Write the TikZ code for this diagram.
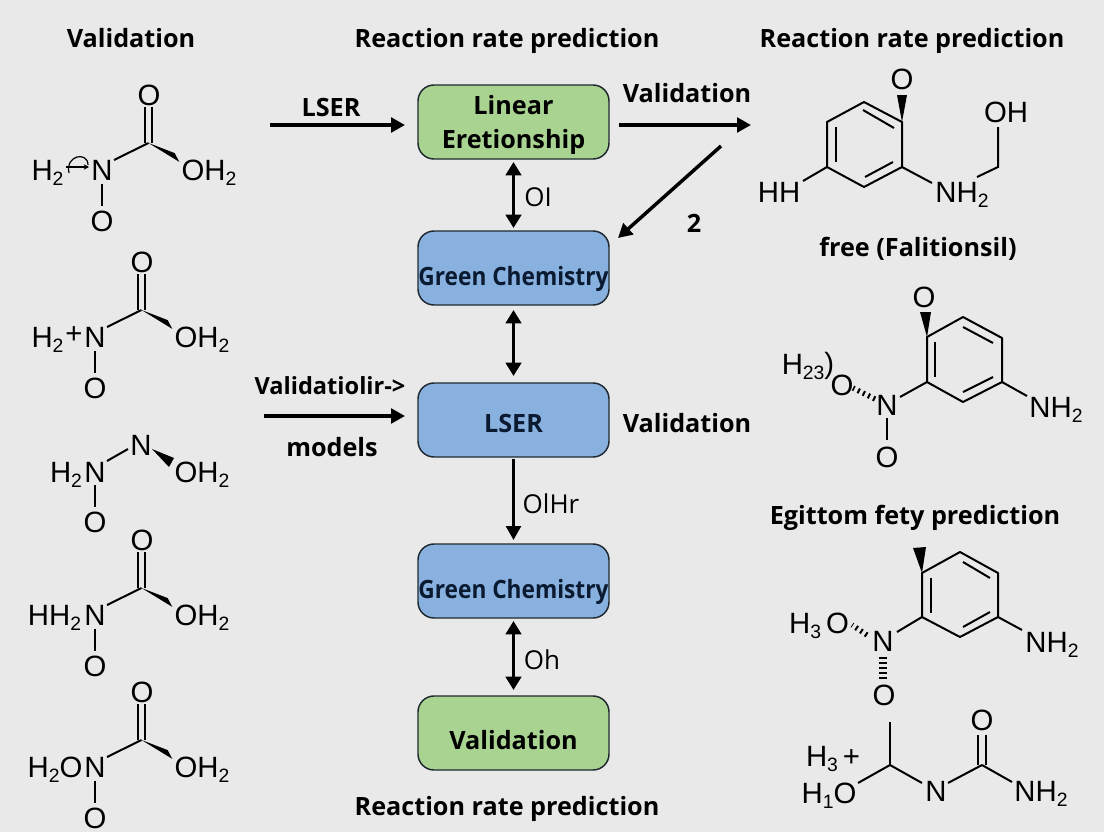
\documentclass[tikz,border=0pt]{standalone}
\usepackage{fontspec}
\usetikzlibrary{arrows.meta}
\setmainfont{Liberation Sans}
\newfontfamily\labfont{Open Sans}
\newfontfamily\narrowfont[FakeStretch=0.9]{Open Sans}
\definecolor{pagebg}{HTML}{E9E9E9}
\definecolor{boxgreen}{HTML}{A8D391}
\definecolor{boxblue}{HTML}{88B1E0}
\definecolor{boxline}{HTML}{1F2A30}
\definecolor{navy}{HTML}{0A1A30}
\newcommand{\chs}[1]{\raisebox{-.2em}{\fontsize{14.5}{14.5}\selectfont #1}}
\tikzset{
  procbox/.style={draw=boxline,line width=1.1pt,rounded corners=12pt,minimum width=143.25pt,minimum height=55.5pt,inner sep=0pt,outer sep=0pt},
  greenbox/.style={procbox,fill=boxgreen},
  bluebox/.style={procbox,fill=boxblue},
  blab/.style={inner sep=0pt,align=center,font=\labfont\fontsize{18.9}{25.5}\selectfont\bfseries},
  narrowlab/.style={blab,font=\narrowfont\fontsize{18.9}{22}\selectfont\bfseries},
  thinlab/.style={inner sep=0pt,font=\labfont\fontsize{19.5}{22}\selectfont},
  arr/.style={line width=2.6pt,-{Triangle[length=10.5pt,width=11pt]}},
  dbl/.style={line width=2.6pt,{Triangle[length=10pt,width=11.5pt]}-{Triangle[length=10pt,width=11.5pt]}},
  atom/.style={inner sep=0pt,font=\fontsize{22}{24}\selectfont},
  chem/.style={inner sep=0pt,anchor=base,font=\fontsize{22}{24}\selectfont},
  bond/.style={line width=1.5pt},
  wedge/.style={fill=black},
  hash/.style={line width=4pt,dash pattern=on 1.5pt off 2.8pt},
  vhash/.style={line width=6.5pt,dash pattern=on 1.5pt off 2.3pt}
}
% carbonyl molecule, origin at its N atom: #1 name prefix, #2 position
\newcommand{\acid}[2]{%
  \begin{scope}[shift={#2}]
    \node[atom] (#1n) at (0,0) {N};
    \node[atom] (#1o) at (47,-75) {O};
    \node[atom] (#1p) at (0,51) {O};
    \node[chem] (#1h) at (107,10) {OH\chs{2}};
    \coordinate (#1c) at (46.5,-27);
    \coordinate (#1a) at (12,-10);
    \coordinate (#1b) at (0,14);
    \coordinate (#1d) at (0,36);
    \coordinate (#1e) at (42.7,-27);
    \coordinate (#1f) at (42.7,-63);
    \coordinate (#1g) at (50.3,-27);
    \coordinate (#1i) at (50.3,-63);
    \coordinate (#1j) at (72.7,-16.9);
    \coordinate (#1k) at (77.3,-8.1);
    \draw[bond] (#1a) -- (#1c);
    \draw[bond] (#1b) -- (#1d);
    \draw[bond] (#1e) -- (#1f);
    \draw[bond] (#1g) -- (#1i);
    \fill[wedge] (#1c) -- (#1j) -- (#1k) -- cycle;
  \end{scope}}
% six ring: #1 prefix, then vertices
\newcommand{\ringbonds}[1]{%
  \draw[bond,line join=round] (#11) -- (#12) -- (#13) -- (#14) -- (#15) -- (#16) -- cycle;}
\begin{document}
\begin{tikzpicture}[x=0.75pt,y=-0.75pt]
\fill[pagebg] (0,0) rectangle (1104,832);
\useasboundingbox (0,0) rectangle (1104,832);

% titles
\node[blab] (t1) at (131,38) {Validation};
\node[blab] (t2) at (507,41) {Reaction rate prediction};
\node[blab] (t3) at (912,41) {Reaction rate prediction};
\node[blab] (t4) at (507,809) {Reaction rate prediction};

% process boxes
\node[greenbox] (b1) at (513.5,122) {};
\node[blab] (b1t) at (513.5,125) {Linear\\Eretionship};
\node[bluebox]  (b2) at (513.5,268) {};
\node[narrowlab,text=navy] (b2t) at (513.5,279) {Green Chemistry};
\node[bluebox]  (b3) at (513.5,420) {};
\node[blab,text=navy] (b3t) at (513.5,423) {LSER};
\node[bluebox]  (b4) at (513.5,581) {};
\node[narrowlab,text=navy] (b4t) at (513.5,592) {Green Chemistry};
\node[greenbox] (b5) at (513.5,733) {};
\node[blab] (b5t) at (513.5,740) {Validation};

% free arrow ends
\coordinate (in1) at (270,125);
\coordinate (out1) at (751,125);
\coordinate (in2) at (264,416);
\coordinate (dg1) at (721,146);
\coordinate (dg2) at (618,238);

% connectors
\draw[arr,shorten >=9.75pt] (in1) -- (b1.west |- in1);
\draw[arr,shorten <=7.5pt] (b1.east |- out1) -- (out1);
\draw[arr] (dg1) -- (dg2);
\draw[dbl,shorten <=2.25pt,shorten >=2.25pt] (b1.south) -- (b2.north);
\draw[dbl,shorten <=3.75pt,shorten >=5.25pt] (b2.south) -- (b3.north);
\draw[arr,shorten >=9.75pt] (in2) -- (b3.west |- in2);
\draw[arr,shorten <=1.5pt,shorten >=3pt] (b3.south) -- (b4.north);
\draw[dbl,shorten <=2.25pt,shorten >=4.5pt] (b4.south) -- (b5.north);

% connector labels
\node[blab] (l1) at (331,107) {LSER};
\node[blab] (l2) at (687,93) {Validation};
\node[thinlab] (l3) at (538,197) {OI};
\node[blab] (l4) at (694,223) {2};
\node[blab,font=\labfont\fontsize{17.7}{22}\selectfont\bfseries] (l5) at (330,386) {Validatiolir->};
\node[blab] (l6) at (332,447) {models};
\node[blab] (l7) at (687,423) {Validation};
\node[thinlab] (l8) at (551,504) {OlHr};
\node[thinlab] (l9) at (542,660) {Oh};

% ---- left molecules
\acid{ma}{(102,170)}
\node[chem] (mal) at (47.5,180) {H\chs{2}};
\coordinate (maq1) at (66,167);
\coordinate (maq2) at (89,167);
\draw[line width=0.9pt,-{Stealth[length=4pt,width=4pt]}] (maq1) -- (maq2);
\draw[line width=0.9pt] (69,173) .. controls (65,155) and (88,151) .. (88,165);

\acid{mb}{(95,337)}
\node[chem] (mbl) at (47.5,347) {H\chs{2}};
\node[atom] (mbp) at (74,335) {+};

% molecule three
\node[atom] (mcn) at (95,472) {N};
\node[atom] (mcm) at (141,445) {N};
\node[atom] (mco) at (95,522) {O};
\node[chem] (mch) at (202,482) {OH\chs{2}};
\node[chem] (mcl) at (66,482) {H\chs{2}};
\coordinate (mc1) at (107,461);
\coordinate (mc2) at (128,449);
\coordinate (mc3) at (95,485);
\coordinate (mc4) at (95,507);
\coordinate (mc5) at (152,449);
\coordinate (mc6) at (169,467);
\coordinate (mc7) at (174,458);
\draw[bond] (mc1) -- (mc2);
\draw[bond] (mc3) -- (mc4);
\fill[wedge] (mc5) -- (mc6) -- (mc7) -- cycle;

\acid{md}{(95,615)}
\node[chem] (mdl) at (54.5,625) {HH\chs{2}};
\acid{me}{(95,767)}
\node[chem] (mel) at (55,777) {H\chs{2}O};

% ---- right molecule one
\coordinate (ra1) at (902,122);
\coordinate (ra2) at (864,102);
\coordinate (ra3) at (827,122);
\coordinate (ra4) at (827,167);
\coordinate (ra5) at (864,187);
\coordinate (ra6) at (902,167);
\ringbonds{ra}
\coordinate (rai1) at (863,110);
\coordinate (rai2) at (894,128);
\coordinate (rai3) at (836,127);
\coordinate (rai4) at (836,162);
\coordinate (rai5) at (865,177);
\coordinate (rai6) at (893,162);
\draw[bond] (rai1) -- (rai2);
\draw[bond] (rai3) -- (rai4);
\draw[bond] (rai5) -- (rai6);
\node[atom] (rao) at (902,79) {O};
\coordinate (raw1) at (897,95);
\coordinate (raw2) at (907,95);
\fill[wedge] (ra1) -- (raw1) -- (raw2) -- cycle;
\node[chem] (rahh) at (779,202) {HH};
\node[chem] (ranh) at (962,202) {NH\chs{2}};
\node[chem] (raoh) at (1006,122) {OH};
\coordinate (rab1) at (803,181);
\coordinate (rab2) at (932,183);
\coordinate (rab3) at (977,177);
\coordinate (rab4) at (998,167);
\coordinate (rab5) at (998,127);
\draw[bond] (ra4) -- (rab1);
\draw[bond] (ra6) -- (rab2);
\draw[bond] (rab3) -- (rab4) -- (rab5);
\node[blab] (rat) at (918,249) {free (Falitionsil)};

% ---- right molecule two
\coordinate (rb1) at (927,337);
\coordinate (rb2) at (963,317);
\coordinate (rb3) at (1002,338);
\coordinate (rb4) at (1002,382);
\coordinate (rb5) at (963,402);
\coordinate (rb6) at (927,382);
\ringbonds{rb}
\coordinate (rbi1) at (935,342);
\coordinate (rbi2) at (935,377);
\coordinate (rbi3) at (963,327);
\coordinate (rbi4) at (993,343);
\coordinate (rbi5) at (963,392);
\coordinate (rbi6) at (993,377);
\draw[bond] (rbi1) -- (rbi2);
\draw[bond] (rbi3) -- (rbi4);
\draw[bond] (rbi5) -- (rbi6);
\node[atom] (rbo) at (924,297) {O};
\coordinate (rbw1) at (920,312);
\coordinate (rbw2) at (931,312);
\fill[wedge] (rb1) -- (rbw1) -- (rbw2) -- cycle;
\node[atom] (rbn) at (887,405) {N};
\node[atom] (rbq) at (887,457) {O};
\node[atom] (rbr) at (842,385) {O};
\node[chem] (rbh) at (1056,417) {NH\chs{2}};
\node[chem] (rbl) at (808,374) {H\raisebox{-.2em}{\fontsize{14.5}{14.5}\selectfont 23}\raisebox{.02em}{\fontsize{22}{22}\selectfont )}};
\coordinate (rbb1) at (900,397);
\coordinate (rbb2) at (1027,396);
\coordinate (rbb3) at (887,418);
\coordinate (rbb4) at (887,440);
\coordinate (rbb5) at (875,399);
\coordinate (rbb6) at (853,388);
\draw[bond] (rbb1) -- (rb6);
\draw[bond] (rb4) -- (rbb2);
\draw[bond] (rbb3) -- (rbb4);
\draw[hash] (rbb5) -- (rbb6);

% ---- right molecule three
\node[blab] (rct) at (915,518) {Egittom fety prediction};
\coordinate (rc1) at (922,573);
\coordinate (rc2) at (960,552);
\coordinate (rc3) at (998,573);
\coordinate (rc4) at (998,617);
\coordinate (rc5) at (960,637);
\coordinate (rc6) at (922,617);
\ringbonds{rc}
\coordinate (rci1) at (931,578);
\coordinate (rci2) at (931,613);
\coordinate (rci3) at (963,562);
\coordinate (rci4) at (990,578);
\coordinate (rci5) at (963,627);
\coordinate (rci6) at (990,612);
\draw[bond] (rci1) -- (rci2);
\draw[bond] (rci3) -- (rci4);
\draw[bond] (rci5) -- (rci6);
\coordinate (rcw1) at (913,548);
\coordinate (rcw2) at (926,547);
\fill[wedge] (rc1) -- (rcw1) -- (rcw2) -- cycle;
\node[atom] (rcn) at (883,641) {N};
\node[atom] (rco) at (884,695) {O};
\node[chem] (rch) at (1052,652) {NH\chs{2}};
\node[chem] (rcl) at (819,633) {H\chs{3}\,O};
\coordinate (rcb1) at (897,632);
\coordinate (rcb2) at (1022,630);
\coordinate (rcb3) at (883,657);
\coordinate (rcb4) at (883,682);
\coordinate (rcb5) at (867,635);
\coordinate (rcb6) at (852,625);
\draw[bond] (rcb1) -- (rc6);
\draw[bond] (rc4) -- (rcb2);
\draw[hash] (rcb5) -- (rcb6);
\draw[vhash] (rcb3) -- (rcb4);

% ---- urea fragment
\node[chem] (rdl) at (833,766) {H\chs{3}\,+};
\node[chem] (rdm) at (829,803) {H\chs{1}O};
\node[atom] (rdn) at (936,791) {N};
\node[atom] (rdo) at (982,720) {O};
\node[chem] (rdh) at (1041,801) {NH\chs{2}};
\coordinate (rd1) at (890,722);
\coordinate (rd2) at (890,765);
\coordinate (rd3) at (858,783);
\coordinate (rd4) at (922,783);
\coordinate (rd5) at (948,783);
\coordinate (rd6) at (982,765);
\coordinate (rd7) at (1012,782);
\coordinate (rd8) at (978,735);
\coordinate (rd9) at (978,765);
\coordinate (rd10) at (986,735);
\coordinate (rd11) at (986,765);
\draw[bond] (rd1) -- (rd2);
\draw[bond] (rd2) -- (rd3);
\draw[bond] (rd2) -- (rd4);
\draw[bond] (rd5) -- (rd6);
\draw[bond] (rd6) -- (rd7);
\draw[bond] (rd8) -- (rd9);
\draw[bond] (rd10) -- (rd11);
\end{tikzpicture}
\end{document}
